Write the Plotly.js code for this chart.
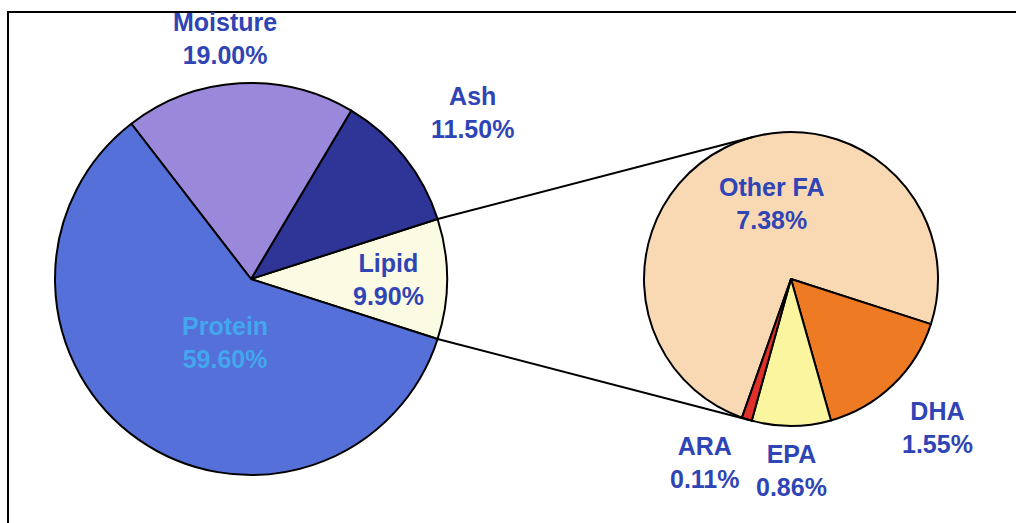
<!DOCTYPE html>
<html>
<head>
<meta charset="utf-8">
<script src="https://cdn.plot.ly/plotly-3.0.1.min.js"></script>
<style>html,body{margin:0;padding:0;background:#fff;}#chart{width:1016px;height:523px;}</style>
</head>
<body>
<div id="chart"></div>
<script>
// ---- data ----
const mainLabels = ['Lipid', 'Ash', 'Moisture', 'Protein'];
const mainValues = [9.90, 11.50, 19.00, 59.60];
const subLabels = ['Other FA', 'DHA', 'EPA', 'ARA'];
const subValues = [7.38, 1.55, 0.86, 0.11];

// ---- styling ----
const W = 1016, H = 523;
const mainColors = ['#FBFBE3', '#2E3596', '#9A88DA', '#5570D8'];
const subColors = ['#F8D9B4', '#EE7B24', '#FBF5A0', '#E0302A'];
const labelColor = '#2F44B5';
const proteinColor = '#43A6EE';
const FONT = 'Liberation Sans, Arial, sans-serif';

// pie geometry (pixels)
const L = {cx: 251, cy: 279, r: 196};
const R = {cx: 791, cy: 279, r: 147};
function dom(p) {
  return {x: [(p.cx - p.r) / W, (p.cx + p.r) / W],
          y: [1 - (p.cy + p.r) / H, 1 - (p.cy - p.r) / H]};
}

const mainTotal = mainValues.reduce((a, b) => a + b, 0);
const lipidHalfDeg = mainValues[0] / mainTotal * 180;

const traces = [
  {
    type: 'pie', labels: mainLabels, values: mainValues, sort: false,
    direction: 'counterclockwise', rotation: 90 - lipidHalfDeg,
    marker: {colors: mainColors, line: {color: '#000', width: 2}},
    textinfo: 'none', hoverinfo: 'label+value', showlegend: false,
    domain: dom(L)
  },
  {
    type: 'pie', labels: subLabels, values: subValues, sort: false,
    direction: 'clockwise', rotation: 199.5,
    marker: {colors: subColors, line: {color: '#000', width: 2}},
    textinfo: 'none', hoverinfo: 'label+value', showlegend: false,
    domain: dom(R)
  }
];

// connector lines: tangents from lipid slice edges to the secondary pie
function tangent(px, py, upper) {
  const dx = R.cx - px, dy = R.cy - py;
  const d = Math.hypot(dx, dy);
  const base = Math.atan2(dy, dx);
  const off = Math.asin(R.r / d);
  const ang = upper ? base - off : base + off;
  const len = Math.sqrt(d * d - R.r * R.r);
  return [px + len * Math.cos(ang), py + len * Math.sin(ang)];
}
const a = lipidHalfDeg * Math.PI / 180;
const pTop = [L.cx + L.r * Math.cos(a), L.cy - L.r * Math.sin(a)];
const pBot = [L.cx + L.r * Math.cos(a), L.cy + L.r * Math.sin(a)];
const tTop = tangent(pTop[0], pTop[1], true);
const tBot = tangent(pBot[0], pBot[1], false);
const px = v => v / W, py = v => 1 - v / H;

const shapes = [
  {type: 'line', xref: 'paper', yref: 'paper', x0: px(pTop[0]), y0: py(pTop[1]), x1: px(tTop[0]), y1: py(tTop[1]), line: {color: '#000', width: 2}},
  {type: 'line', xref: 'paper', yref: 'paper', x0: px(pBot[0]), y0: py(pBot[1]), x1: px(tBot[0]), y1: py(tBot[1]), line: {color: '#000', width: 2}},
  {type: 'rect', xref: 'paper', yref: 'paper', x0: px(8), y0: py(12), x1: px(1040), y1: py(560), line: {color: '#000', width: 2}}
];

// label positions (pixels)
const mainLabelPos = [[388, 279], [472, 113], [225, 38], [224.5, 342.5]];
const subLabelPos = [[772, 203], [937.5, 427.5], [791.5, 470.5], [705, 462.5]];

const annotations = [];
mainLabels.forEach((lab, i) => {
  annotations.push({
    xref: 'paper', yref: 'paper', x: px(mainLabelPos[i][0]), y: py(mainLabelPos[i][1]),
    xanchor: 'center', yanchor: 'middle', showarrow: false,
    text: lab + '<br>' + mainValues[i].toFixed(2) + '%',
    font: {family: FONT, size: 25, weight: 'bold', color: lab === 'Protein' ? proteinColor : labelColor}
  });
});
subLabels.forEach((lab, i) => {
  annotations.push({
    xref: 'paper', yref: 'paper', x: px(subLabelPos[i][0]), y: py(subLabelPos[i][1]),
    xanchor: 'center', yanchor: 'middle', showarrow: false,
    text: lab + '<br>' + subValues[i].toFixed(2) + '%',
    font: {family: FONT, size: 25, weight: 'bold', color: labelColor}
  });
});

const layout = {
  width: W, height: H,
  margin: {l: 0, r: 0, t: 0, b: 0},
  paper_bgcolor: '#fff', plot_bgcolor: '#fff',
  showlegend: false,
  shapes: shapes,
  annotations: annotations
};

Plotly.newPlot('chart', traces, layout, {displayModeBar: false, staticPlot: true});
</script>
</body>
</html>
